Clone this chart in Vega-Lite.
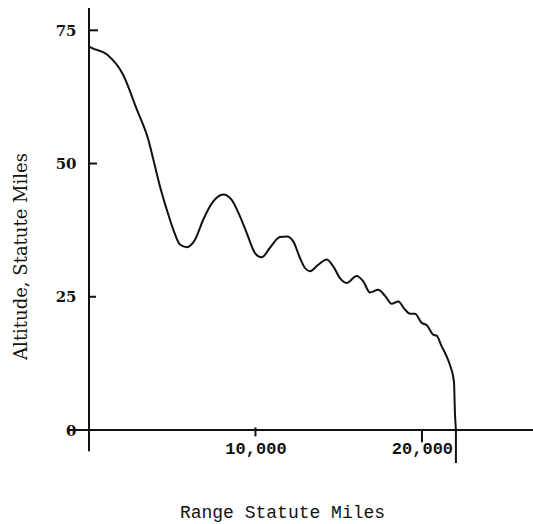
{
  "$schema": "https://vega.github.io/schema/vega-lite/v6.json",
  "width": 444,
  "height": 421,
  "autosize": {"type": "none"},
  "padding": {"left": 89, "top": 9, "right": 0, "bottom": 94},
  "background": "white",
  "config": {"view": {"stroke": null}},
  "datasets": {
    "curve": [
      {"range": 0, "alt": 72.0},
      {"range": 162, "alt": 71.7},
      {"range": 1063, "alt": 70.5},
      {"range": 2042, "alt": 66.7},
      {"range": 2865, "alt": 60.2},
      {"range": 3562, "alt": 54.5},
      {"range": 3862, "alt": 50.8},
      {"range": 4264, "alt": 45.7},
      {"range": 4667, "alt": 41.4},
      {"range": 5063, "alt": 37.6},
      {"range": 5465, "alt": 34.8},
      {"range": 5868, "alt": 34.3},
      {"range": 6366, "alt": 35.7},
      {"range": 6865, "alt": 39.5},
      {"range": 7465, "alt": 42.9},
      {"range": 8066, "alt": 44.2},
      {"range": 8571, "alt": 43.2},
      {"range": 9069, "alt": 40.1},
      {"range": 9471, "alt": 37.0},
      {"range": 9970, "alt": 33.2},
      {"range": 10372, "alt": 32.4},
      {"range": 10871, "alt": 34.2},
      {"range": 11471, "alt": 36.2},
      {"range": 11874, "alt": 36.3},
      {"range": 12270, "alt": 35.4},
      {"range": 12631, "alt": 32.6},
      {"range": 12973, "alt": 30.4},
      {"range": 13273, "alt": 29.8},
      {"range": 13772, "alt": 31.0},
      {"range": 14276, "alt": 32.0},
      {"range": 14673, "alt": 30.7},
      {"range": 15075, "alt": 28.5},
      {"range": 15477, "alt": 27.6},
      {"range": 16078, "alt": 28.9},
      {"range": 16475, "alt": 27.9},
      {"range": 16877, "alt": 25.8},
      {"range": 17375, "alt": 26.3},
      {"range": 17778, "alt": 25.2},
      {"range": 18180, "alt": 23.7},
      {"range": 18577, "alt": 24.1},
      {"range": 18979, "alt": 22.6},
      {"range": 19279, "alt": 21.8},
      {"range": 19580, "alt": 21.8},
      {"range": 19982, "alt": 20.1},
      {"range": 20282, "alt": 19.7},
      {"range": 20679, "alt": 17.9},
      {"range": 20883, "alt": 17.7},
      {"range": 21183, "alt": 15.7},
      {"range": 21483, "alt": 13.8},
      {"range": 21682, "alt": 12.2},
      {"range": 21922, "alt": 9.1},
      {"range": 21982, "alt": 3.2},
      {"range": 22040, "alt": 0}
    ],
    "axislines": [
      {"name": "xaxis", "range": -1300, "range2": 26670, "alt": 0, "alt2": 0},
      {"name": "yaxis", "range": 0, "range2": 0, "alt": -4, "alt2": 79.2},
      {"name": "end", "range": 22040, "range2": 22040, "alt": 0, "alt2": -6.2},
      {"name": "tick x 10000", "range": 10000, "range2": 10000, "alt": 0.5, "alt2": -1.2},
      {"name": "tick x 20000", "range": 20000, "range2": 20000, "alt": 0, "alt2": -2.3},
      {"name": "tick y 25", "range": 0, "range2": 420, "alt": 25, "alt2": 25},
      {"name": "tick y 50", "range": 0, "range2": 480, "alt": 50, "alt2": 50},
      {"name": "tick y 75", "range": 0, "range2": 540, "alt": 75, "alt2": 75}
    ]
  },
  "encoding": {
    "x": {
      "field": "range", "type": "quantitative",
      "scale": {"domain": [0, 26670], "nice": false, "zero": false},
      "axis": {
        "title": "Range Statute Miles",
        "values": [10000, 20000],
        "format": ",d",
        "domain": false,
        "grid": false,
        "ticks": false,
        "labelPadding": 10,
        "labelDx": -12,
        "labelFont": "Liberation Mono",
        "labelFontWeight": "bold",
        "labelFontSize": 17,
        "labelColor": "#111",
        "labelBaseline": "top",
        "titleFont": "Liberation Mono",
        "titleFontWeight": "normal",
        "titleFontSize": 18,
        "titleColor": "#111",
        "titleX": 193,
        "titleY": 87,
        "titleAlign": "center",
        "titleBaseline": "alphabetic"
      }
    },
    "y": {
      "field": "alt", "type": "quantitative",
      "scale": {"domain": [0, 79], "nice": false, "zero": false},
      "axis": {
        "title": "Altitude, Statute Miles",
        "values": [0, 25, 50, 75],
        "domain": false,
        "grid": false,
        "ticks": false,
        "labelPadding": 13,
        "labelAlign": "right",
        "labelBaseline": "middle",
        "labelDy": -2,
        "labelFont": "DejaVu Serif",
        "labelFontWeight": "bold",
        "labelFontSize": 15,
        "labelColor": "#111",
        "titleFont": "DejaVu Serif",
        "titleFontWeight": "normal",
        "titleFontSize": 18,
        "titleColor": "#111",
        "titleAngle": -90,
        "titleX": -63,
        "titleY": 247,
        "titleAlign": "center",
        "titleBaseline": "alphabetic"
      }
    }
  },
  "layer": [
    {
      "data": {"name": "axislines"},
      "mark": {"type": "rule", "color": "#111", "strokeWidth": 2},
      "encoding": {
        "x2": {"field": "range2"},
        "y2": {"field": "alt2"}
      }
    },
    {
      "data": {"name": "curve"},
      "mark": {"type": "line", "color": "#111", "strokeWidth": 2, "interpolate": "monotone"},
      "encoding": {}
    }
  ]
}
